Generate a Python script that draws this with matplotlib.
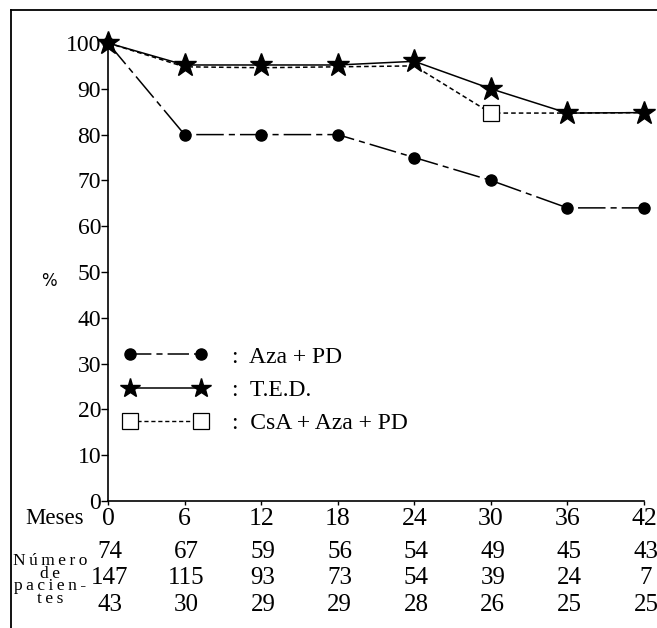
import matplotlib
matplotlib.use("Agg")
import matplotlib.pyplot as plt
from matplotlib.lines import Line2D
import matplotlib.transforms as mtransforms

# ---- data ----
months = [0, 6, 12, 18, 24, 30, 36, 42]
aza_pd = [100, 80, 80, 80, 75, 70, 64, 64]
ted = [100, 95.2, 95.2, 95.2, 96, 90, 84.7, 84.8]
csa_aza_pd = [100, 94.8, 94.6, 94.8, 95, 84.7, 84.7, 84.8]
yticks = [0, 10, 20, 30, 40, 50, 60, 70, 80, 90, 100]
n_aza = [74, 67, 59, 56, 54, 49, 45, 43]
n_ted = [147, 115, 93, 73, 54, 39, 24, 7]
n_csa = [43, 30, 29, 29, 28, 26, 25, 25]
labels = [":  Aza + PD", ":  T.E.D.", ":  CsA + Aza + PD"]

W, H = 657, 628
plt.rcParams['font.family'] = ['Liberation Serif', 'DejaVu Serif']
fig = plt.figure(figsize=(W / 100, H / 100), dpi=100)
ax = fig.add_axes([108 / W, 1 - 501 / H, (644 - 108) / W, (501 - 43) / H])

AZA_LS = (0, (18, 3.3, 4, 3.3))
CSA_LS = (0, (3, 2))

l_csa, = ax.plot(months, csa_aza_pd, color='black', lw=1.1, ls=CSA_LS,
                 marker='s', markersize=12, markerfacecolor='white',
                 markeredgecolor='black', markeredgewidth=0.9, zorder=2,
                 markevery=[5])
l_aza, = ax.plot(months, aza_pd, color='black', lw=1.1, ls=AZA_LS,
                 marker='o', markersize=8, zorder=3)
l_ted, = ax.plot(months, ted, color='black', lw=1.1, ls='-',
                 marker='*', markersize=17, zorder=4)

ax.set_xlim(0, 42)
ax.set_ylim(0, 100)
ax.set_xticks(months)
ax.set_yticks(yticks)
ax.tick_params(axis='x', direction='out', length=3, width=1, pad=2, labelsize=18.5)
ax.tick_params(axis='y', direction='out', length=5, width=1, pad=0, labelsize=17)
for s in ['top', 'right']:
    ax.spines[s].set_visible(False)
for s in ['left', 'bottom']:
    ax.spines[s].set_linewidth(1.2)
for l in (l_csa, l_aza, l_ted):
    l.set_clip_on(False)

# legend (proxy handles with markers on both ends)
h_aza = Line2D([], [], color='black', lw=1.1, ls=(0, (14, 3.3, 4, 3.3)),
               marker='o', markersize=8)
h_ted = Line2D([], [], color='black', lw=1.1, ls='-', marker='*', markersize=15)
h_csa = Line2D([], [], color='black', lw=1.0, ls=CSA_LS, marker='s',
               markersize=12, markerfacecolor='white', markeredgewidth=0.9)
leg = ax.legend([h_aza, h_ted, h_csa], labels, loc='upper left',
                bbox_to_anchor=(15 / 536, (501 - 346) / 458), frameon=False,
                numpoints=2, handlelength=3.6, handletextpad=1.0,
                borderpad=0, borderaxespad=0, labelspacing=0.5,
                prop={'family': 'Liberation Serif', 'size': 17})

# "%" label
fig.text(49 / W, 1 - 281 / H, '%', family='DejaVu Sans', fontsize=12,
         ha='center', va='center')

# Meses label
fig.text(84 / W, 1 - 518 / H, 'Meses', fontsize=16.5, ha='right', va='center')

# patient count rows
trans = mtransforms.blended_transform_factory(ax.transData, fig.transFigure)
off = mtransforms.ScaledTranslation(2 / 100, 0, fig.dpi_scale_trans)
for row, ypix in zip([n_aza, n_ted, n_csa], [552, 578, 605]):
    for m, v in zip(months, row):
        ax.text(m, 1 - ypix / H, str(v), transform=trans + off, fontsize=18,
                ha='center', va='center', clip_on=False)

ts = '\u2009'
fig.text(50 / W, 1 - 580 / H,
         ts.join('Número') + '\n' + ts.join('de') + '\n' + ts.join('pacien-') + '\n' + ts.join('tes'),
         fontsize=12.5, ha='center', va='center', multialignment='center',
         linespacing=0.74)

# frame border of the scanned figure
fig.add_artist(Line2D([11 / W, 11 / W], [0, 1 - 10 / H], transform=fig.transFigure,
                      color='black', lw=1.3))
fig.add_artist(Line2D([11 / W, 1], [1 - 10 / H, 1 - 10 / H], transform=fig.transFigure,
                      color='black', lw=1.3))

fig.savefig('out.png', dpi=100)
